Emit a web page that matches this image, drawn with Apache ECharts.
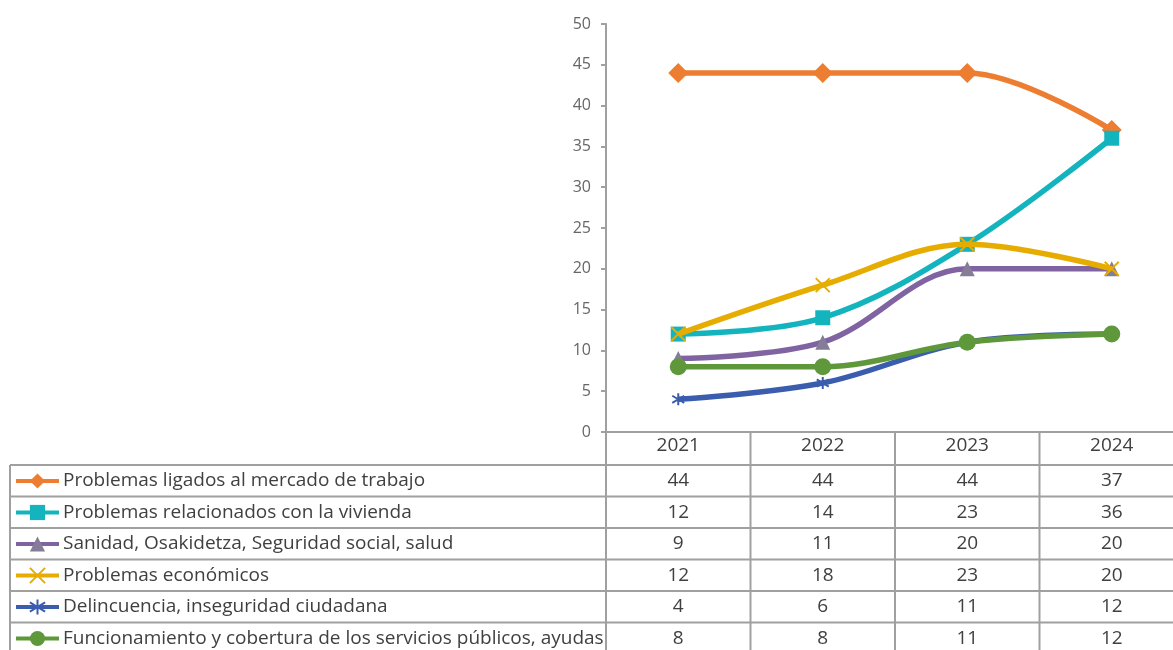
<!DOCTYPE html>
<html>
<head>
<meta charset="utf-8">
<script src="https://cdn.jsdelivr.net/npm/echarts@6/dist/echarts.min.js"></script>
<style>
  html, body { margin: 0; padding: 0; background: #fff; }
  #chart { width: 1173px; height: 650px; }
</style>
</head>
<body>
<div id="chart"></div>
<script>
// datos
var years = ['2021', '2022', '2023', '2024'];
var names = [
    'Problemas ligados al mercado de trabajo',
    'Problemas relacionados con la vivienda',
    'Sanidad, Osakidetza, Seguridad social, salud',
    'Problemas económicos',
    'Delincuencia, inseguridad ciudadana',
    'Funcionamiento y cobertura de los servicios públicos, ayudas'
];
var mercado = [44, 44, 44, 37];
var vivienda = [12, 14, 23, 36];
var sanidad = [9, 11, 20, 20];
var economicos = [12, 18, 23, 20];
var delincuencia = [4, 6, 11, 12];
var servicios = [8, 8, 11, 12];
var yTicks = [0, 5, 10, 15, 20, 25, 30, 35, 40, 45, 50];

var font = 'Open Sans';
var textColor = '#404040';
var gridColor = '#a0a0a0';

var allData = [mercado, vivienda, sanidad, economicos, delincuencia, servicios];
var colors = ['#ED7D31', '#14B4BE', '#8064A2', '#E6AD00', '#3A5DAE', '#5E983B'];
var symbols = [
    'diamond',
    'rect',
    'triangle',
    'path://M0,0 L10,10 M10,0 L0,10',
    'path://M5,0 L5,10 M0,2 L10,8 M0,8 L10,2',
    'circle'
];
var symbolSizes = [[20, 20], 15, 15, 14, 12, 17];
var markerFill = ['#ED7D31', '#14B4BE', '#857D98', '#E6AD00', '#3A5DAE', '#5E983B'];

var chart = echarts.init(document.getElementById('chart'));

var series = [];
for (var i = 0; i < allData.length; i++) {
    var isStroke = (i === 3 || i === 4);
    series.push({
        name: names[i],
        type: 'line',
        data: allData[i],
        smooth: 0.35,
        symbol: symbols[i],
        symbolSize: symbolSizes[i],
        lineStyle: { color: colors[i], width: 5.5 },
        itemStyle: isStroke ? {
            color: colors[i],
            borderColor: colors[i],
            borderWidth: 2
        } : {
            color: markerFill[i],
            borderWidth: 0
        },
        emphasis: { disabled: true },
        z: 2 + i
    });
}

var option = {
    animation: false,
    backgroundColor: '#fff',
    grid: {
        left: 606,
        top: 24,
        width: 578,
        height: 408,
        containLabel: false,
        outerBoundsMode: 'none'
    },
    legend: {
        orient: 'vertical',
        left: 14,
        top: 471.5,
        padding: 0,
        itemWidth: 43,
        itemHeight: 19,
        itemGap: 12.5,
        selectedMode: false,
        lineStyle: { width: 4 },
        textStyle: {
            fontFamily: font,
            fontSize: 19,
            lineHeight: 19,
            color: textColor,
            padding: [0, 0, 0, -1]
        },
        data: names
    },
    xAxis: {
        type: 'category',
        data: years,
        boundaryGap: true,
        axisLine: { lineStyle: { color: gridColor, width: 2 } },
        axisTick: { show: false },
        axisLabel: {
            fontFamily: font,
            fontSize: 19,
            color: textColor,
            margin: 4
        }
    },
    yAxis: {
        type: 'value',
        min: yTicks[0],
        max: yTicks[yTicks.length - 1],
        interval: yTicks[1] - yTicks[0],
        splitLine: { show: false },
        axisLine: { show: true, lineStyle: { color: gridColor, width: 2 } },
        axisTick: { show: true, length: 5, lineStyle: { color: gridColor, width: 2 } },
        axisLabel: {
            fontFamily: font,
            fontSize: 16,
            color: '#666',
            margin: 15
        }
    },
    series: series
};
chart.setOption(option);

// tabla de datos bajo el gráfico
var centers = years.map(function (y) {
    return chart.convertToPixel({ xAxisIndex: 0 }, y);
});
var colW = centers[1] - centers[0];
var bounds = [centers[0] - colW / 2];
for (var c = 0; c < centers.length; c++) {
    bounds.push(centers[c] + colW / 2);
}
var axisY = chart.convertToPixel({ yAxisIndex: 0 }, 0);
var tableTop = 465;
var rowH = 31.5;
var tableLeft = 10;
var chartW = 1173;
var bottomY = 660;

var graphics = [];
function hline(y, x1, x2) {
    graphics.push({
        type: 'line', silent: true,
        shape: { x1: x1, y1: y, x2: x2, y2: y },
        style: { stroke: gridColor, lineWidth: 2 }
    });
}
function vline(x, y1, y2) {
    graphics.push({
        type: 'line', silent: true,
        shape: { x1: x, y1: y1, x2: x, y2: y2 },
        style: { stroke: gridColor, lineWidth: 2 }
    });
}
for (var r = 0; r <= names.length; r++) {
    hline(tableTop + r * rowH, tableLeft, chartW);
}
vline(tableLeft, tableTop, bottomY);
for (var b = 0; b < bounds.length; b++) {
    vline(bounds[b], axisY, bottomY);
}
for (var r = 0; r < allData.length; r++) {
    for (var c = 0; c < years.length; c++) {
        graphics.push({
            type: 'text', silent: true,
            x: centers[c],
            y: tableTop + r * rowH + rowH / 2,
            style: {
                text: String(allData[r][c]),
                fontFamily: font,
                fontSize: 19,
                fill: textColor,
                align: 'center',
                verticalAlign: 'middle'
            }
        });
    }
}
chart.setOption({ graphic: graphics });
</script>
</body>
</html>
